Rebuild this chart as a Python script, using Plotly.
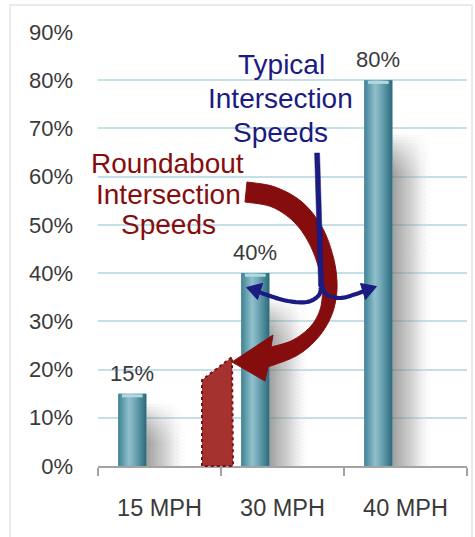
import plotly.graph_objects as go

# ---- data ----
categories = ["15 MPH", "30 MPH", "40 MPH"]
shares = [15, 40, 80]            # percent at each speed
y_ticks = list(range(0, 100, 10))

# ---- canvas / plot-area geometry (pixels) ----
W, H = 475, 537
ML, MR, MT, MB = 98, 8, 32, 71
PW, PH = W - ML - MR, H - MT - MB

FONT = "Liberation Sans, Arial, sans-serif"
TXT = "#3a3a3a"
NAVY = "#1b1b82"
MAROON = "#860d0d"

BAR_OFFSET = -0.335   # bars sit left of the category centre
BAR_WIDTH = 0.228
SHADOW_W = 0.34


def pp(px, py):
    """pixel position -> paper coordinates string"""
    return f"{(px - ML) / PW:.5f},{(H - MB - py) / PH:.5f}"


def catmull(pts, n=10):
    P = [pts[0]] + list(pts) + [pts[-1]]
    out = []
    for i in range(1, len(P) - 2):
        p0, p1, p2, p3 = P[i - 1], P[i], P[i + 1], P[i + 2]
        for k in range(n):
            t = k / n
            t2, t3 = t * t, t * t * t
            xy = []
            for d in range(2):
                xy.append(0.5 * (2 * p1[d] + (-p0[d] + p2[d]) * t
                                 + (2 * p0[d] - 5 * p1[d] + 4 * p2[d] - p3[d]) * t2
                                 + (-p0[d] + 3 * p1[d] - 3 * p2[d] + p3[d]) * t3))
            out.append(tuple(xy))
    out.append(pts[-1])
    return out


def path(points, close=False):
    s = "M " + " L ".join(pp(x, y) for x, y in points)
    return s + (" Z" if close else "")


fig = go.Figure()

bar_shade = [[0, "#3f8193"], [0.15, "#5f9bab"], [0.38, "#8fbfcb"],
             [0.55, "#79adbb"], [0.82, "#478697"], [1, "#2c687a"]]

# soft shadows to the right of every bar (stacked layers give a blurred top)
N_LAYERS = 14
for i, v in enumerate(shares):
    x1 = i + BAR_OFFSET + BAR_WIDTH
    for k in range(N_LAYERS):
        top = v * 0.86 - k * 0.6
        fig.add_trace(go.Scatter(
            x=[x1, x1 + SHADOW_W, x1 + SHADOW_W, x1, x1],
            y=[0, 0, top, top, 0],
            fill="toself", mode="none", hoverinfo="skip", showlegend=False,
            fillgradient=dict(type="horizontal",
                              colorscale=[[0, "rgba(110,110,110,0.075)"],
                                          [0.5, "rgba(160,160,160,0.04)"],
                                          [1, "rgba(255,255,255,0)"]])))

# the bars
fig.add_trace(go.Bar(
    x=list(range(len(categories))), y=shares,
    offset=BAR_OFFSET, width=BAR_WIDTH,
    marker=dict(color="#5c98a8", line=dict(width=0)),
    hoverinfo="skip", showlegend=False))

# cylinder shading and top rim on each bar
for i, v in enumerate(shares):
    x0 = i + BAR_OFFSET
    x1 = x0 + BAR_WIDTH
    fig.add_trace(go.Scatter(
        x=[x0, x1, x1, x0, x0], y=[0, 0, v, v, 0],
        fill="toself", mode="none", hoverinfo="skip", showlegend=False,
        fillgradient=dict(type="horizontal", colorscale=bar_shade)))
    fig.add_trace(go.Scatter(
        x=[x0 + 0.03, x1 - 0.03], y=[v - 0.45, v - 0.45],
        mode="lines", line=dict(color="#b2d9e3", width=3),
        hoverinfo="skip", showlegend=False))

annotations = []
for i, v in enumerate(shares):
    annotations.append(dict(
        x=i + BAR_OFFSET + BAR_WIDTH / 2, y=v, xref="x", yref="y",
        text=f"{v}%", showarrow=False, yanchor="bottom", yshift=6,
        font=dict(family=FONT, size=22, color=TXT)))


def label(text, px, py, color):
    x, y = ((px - ML) / PW, (H - MB - py) / PH)
    annotations.append(dict(x=x, y=y, xref="paper", yref="paper", text=text,
                            showarrow=False, xanchor="center", yanchor="middle",
                            font=dict(family=FONT, size=28, color=color)))


label("Typical", 281, 64, NAVY)
label("Intersection", 280, 98, NAVY)
label("Speeds", 280, 132, NAVY)
label("Roundabout", 167, 163, MAROON)
label("Intersection", 168, 194, MAROON)
label("Speeds", 168, 224, MAROON)

shapes = []

# light frame around the whole graphic
shapes.append(dict(type="rect", xref="paper", yref="paper", layer="below",
                   x0=(10 - ML) / PW, x1=(472 - ML) / PW,
                   y0=(H - MB - 545) / PH, y1=(H - MB - 5) / PH,
                   line=dict(color="#e4e4e4", width=1.5), fillcolor="rgba(0,0,0,0)"))

# hatched roundabout-speed block
shapes.append(dict(type="path", xref="paper", yref="paper", layer="above",
                   path=path([(202, 466), (202, 380), (232, 357), (233, 466)], close=True),
                   fillcolor="#a63230", line=dict(color="#7a1212", width=2, dash="dot")))

# curved maroon arrow
outer = catmull([(247, 182), (275, 187), (302, 202), (322, 227), (333, 256), (337, 282),
                 (335, 304), (328, 323), (315, 341), (296, 356), (268, 367)])
inner = catmull([(245, 202), (272, 207), (295, 223), (311, 247), (321, 277), (322, 300),
                 (317, 317), (307, 330), (291, 341), (271, 347)])
arrow_pts = outer + [(265, 381), (232, 362), (273, 335)] + inner[::-1]
shapes.append(dict(type="path", xref="paper", yref="paper", layer="above",
                   path=path(arrow_pts, close=True),
                   fillcolor=MAROON, line=dict(color=MAROON, width=1)))

# navy split arrow: stem drawn as a slim filled band, arms as stroked curves
shapes.append(dict(type="path", xref="paper", yref="paper", layer="above",
                   path=path([(314.6, 153), (319.6, 153), (323.6, 286), (318.6, 286)], close=True),
                   fillcolor=NAVY, line=dict(color=NAVY, width=0.5)))
left_arm = catmull([(321, 283), (319, 295), (307, 302), (288, 301), (270, 296), (259, 292)])
right_arm = catmull([(322, 283), (326, 294), (340, 298), (356, 294), (364, 291)])
for seg in (left_arm, right_arm):
    shapes.append(dict(type="path", xref="paper", yref="paper", layer="above",
                       path=path(seg), fillcolor="rgba(0,0,0,0)",
                       line=dict(color=NAVY, width=4.2)))
for head in ([(246.5, 287.5), (262.5, 283.5), (257.5, 299.5)],
             [(376.5, 286.5), (360.5, 283.5), (365.5, 299.5)]):
    shapes.append(dict(type="path", xref="paper", yref="paper", layer="above",
                       path=path(head, close=True), fillcolor=NAVY,
                       line=dict(color=NAVY, width=1)))

fig.update_layout(
    width=W, height=H,
    margin=dict(l=ML, r=MR, t=MT, b=MB, pad=0),
    paper_bgcolor="white", plot_bgcolor="white",
    showlegend=False,
    font=dict(family=FONT, color=TXT),
    annotations=annotations, shapes=shapes,
    xaxis=dict(range=[-0.5, len(categories) - 0.5],
               tickmode="array", tickvals=list(range(len(categories))), ticktext=categories,
               ticks="", showgrid=False, zeroline=False,
               showline=True, linecolor="#a3a3a3", linewidth=1.5,
               ticklabelstandoff=20,
               tickfont=dict(family=FONT, size=23.5, color=TXT),
               minor=dict(tickmode="array",
                          tickvals=[k - 0.5 for k in range(len(categories) + 1)],
                          ticks="outside", ticklen=8, tickcolor="#a3a3a3", tickwidth=1.5,
                          showgrid=False)),
    yaxis=dict(range=[0, 90], tickmode="array", tickvals=y_ticks,
               ticktext=[f"{t}%" for t in y_ticks],
               showgrid=True, gridcolor="#c4dfe6", gridwidth=1.5,
               zeroline=False, showline=False, ticks="",
               ticklabelstandoff=24,
               tickfont=dict(family=FONT, size=22, color=TXT)),
)

fig.write_html("out.html")
